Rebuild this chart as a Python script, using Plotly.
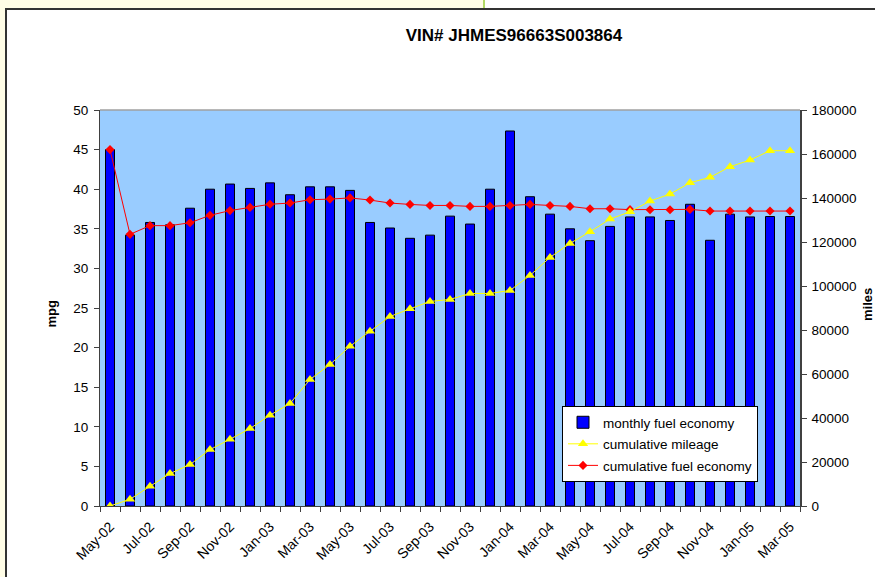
import plotly.graph_objects as go

months = ["May-02", "Jun-02", "Jul-02", "Aug-02", "Sep-02", "Oct-02", "Nov-02", "Dec-02",
          "Jan-03", "Feb-03", "Mar-03", "Apr-03", "May-03", "Jun-03", "Jul-03", "Aug-03",
          "Sep-03", "Oct-03", "Nov-03", "Dec-03", "Jan-04", "Feb-04", "Mar-04", "Apr-04",
          "May-04", "Jun-04", "Jul-04", "Aug-04", "Sep-04", "Oct-04", "Nov-04", "Dec-04",
          "Jan-05", "Feb-05", "Mar-05"]

monthly_mpg = [45.0, 34.2, 35.8, 35.5, 37.6, 40.0, 40.65, 40.1, 40.8, 39.3, 40.3, 40.3, 39.85,
               35.8, 35.1, 33.8, 34.2, 36.6, 35.6, 40.0, 47.35, 39.05, 36.85, 35.0, 33.5, 35.3,
               36.5, 36.5, 36.05, 38.1, 33.55, 36.85, 36.5, 36.55, 36.55]

cum_mpg = [45.0, 34.3, 35.4, 35.4, 35.76, 36.7, 37.3, 37.7, 38.1, 38.25, 38.67, 38.75, 38.9,
           38.63, 38.25, 38.08, 37.95, 37.95, 37.83, 37.83, 37.95, 38.08, 37.95, 37.83, 37.53,
           37.53, 37.42, 37.4, 37.4, 37.45, 37.24, 37.24, 37.24, 37.24, 37.24]

cum_miles = [0, 3050, 8960, 14740, 18830, 25650, 30340, 35200, 41260, 46580, 57500, 64320,
             72600, 79470, 86150, 89610, 92980, 93890, 96620, 96620, 97980, 104800, 113000,
             119360, 124640, 130420, 133740, 138600, 141790, 146930, 149380, 154210, 157250,
             161490, 161490]

tick_text = [m if i % 2 == 0 else "" for i, m in enumerate(months)]

W, H = 875, 577
L, R, T, B = 100, 75, 110, 71
PW, PH = W - L - R, H - T - B


def px(x):
    return (x - L) / PW


def py(y):
    return (H - B - y) / PH


FONT = "Arial, Liberation Sans, sans-serif"
AX = "#404040"

fig = go.Figure()
fig.add_trace(go.Bar(x=months, y=monthly_mpg, name="monthly fuel economy", legendgroup="a",
                     marker=dict(color="#0000FF", line=dict(color="#000000", width=1))))
fig.add_trace(go.Scatter(x=months, y=cum_miles, name="cumulative mileage", yaxis="y2",
                         mode="lines+markers", legendgroup="b",
                         line=dict(color="#FFFF00", width=1),
                         marker=dict(symbol="triangle-up", size=9, color="#FFFF00")))
fig.add_trace(go.Scatter(x=months, y=cum_mpg, name="cumulative fuel economy",
                         mode="lines+markers", legendgroup="c",
                         line=dict(color="#FF0000", width=1),
                         marker=dict(symbol="diamond", size=7, color="#FF0000")))

shapes = [
    dict(type="rect", xref="paper", yref="paper", x0=px(0), x1=px(5.5), y0=py(0), y1=py(H),
         fillcolor="#FFFDE6", line=dict(width=0), layer="below"),
    dict(type="rect", xref="paper", yref="paper", x0=px(0), x1=px(483.5), y0=py(0), y1=py(8),
         fillcolor="#FFFDE6", line=dict(width=0), layer="below"),
    dict(type="line", xref="paper", yref="paper", x0=px(484), x1=px(484), y0=py(0), y1=py(8),
         line=dict(color="#99CC33", width=1.5)),
    dict(type="line", xref="paper", yref="paper", x0=px(5.5), x1=px(W), y0=py(9), y1=py(9),
         line=dict(color="#333333", width=2)),
    dict(type="line", xref="paper", yref="paper", x0=px(6), x1=px(6), y0=py(8), y1=py(H),
         line=dict(color="#333333", width=2)),
    dict(type="line", xref="paper", yref="paper", x0=0, x1=1, y0=1, y1=1,
         line=dict(color="#A0A0A0", width=1.5)),
]

fig.update_layout(
    width=W, height=H,
    margin=dict(l=L, r=R, t=T, b=B),
    paper_bgcolor="#FFFFFF",
    plot_bgcolor="#99CCFF",
    font=dict(family=FONT, size=13.5, color="#000000"),
    title=dict(text="<b>VIN# JHMES96663S003864</b>", x=px(514), xref="paper", xanchor="center",
               y=1 - 35 / H, yanchor="middle", font=dict(size=17, family=FONT)),
    bargap=0.55,
    showlegend=True,
    legend=dict(x=px(562), y=py(406), xanchor="left", yanchor="top",
                bgcolor="#FFFFFF", bordercolor="#000000", borderwidth=1,
                font=dict(size=13.5), traceorder="grouped", tracegroupgap=1),
    xaxis=dict(type="category", tickmode="array", tickvals=months, ticktext=tick_text,
               tickangle=-45, tickson="boundaries", ticks="outside", ticklen=5,
               tickcolor=AX, showline=True, linecolor=AX, linewidth=1, showgrid=False,
               range=[-0.5, len(months) - 0.5], zeroline=False, ticklabelstandoff=6,
               tickfont=dict(size=14)),
    yaxis=dict(range=[0, 50], dtick=5, ticks="outside", ticklen=5, tickcolor=AX,
               showline=True, linecolor=AX, linewidth=1, showgrid=False, zeroline=False,
               ticklabelstandoff=3),
    yaxis2=dict(range=[0, 180000], dtick=20000, overlaying="y", side="right",
                ticks="outside", ticklen=5, tickcolor=AX, showline=True, linecolor=AX,
                linewidth=1.5, showgrid=False, zeroline=False, tickformat="d",
                ticklabelstandoff=2),
    shapes=shapes,
    annotations=[
        dict(text="<b>mpg</b>", xref="paper", yref="paper", x=px(51), y=py(313.5),
             textangle=-90, showarrow=False, xanchor="center", yanchor="middle",
             font=dict(size=13, family=FONT)),
        dict(text="<b>miles</b>", xref="paper", yref="paper", x=px(867), y=py(305),
             textangle=-90, showarrow=False, xanchor="center", yanchor="middle",
             font=dict(size=13, family=FONT)),
    ],
)

fig.write_html("out.html", config={"displayModeBar": False},
               post_script="document.body.style.margin='0';document.body.style.padding='0';")
